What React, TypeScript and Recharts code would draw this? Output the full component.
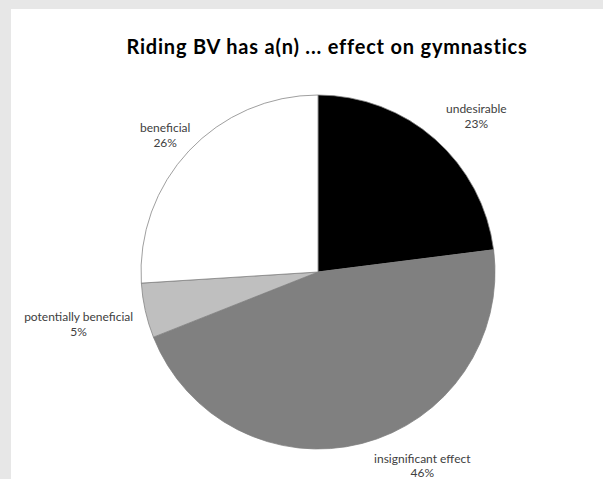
import React from "react";
import { PieChart, Pie, Cell } from "recharts";

const categories = ["undesirable", "insignificant effect", "potentially beneficial", "beneficial"];
const values = [23, 46, 5, 26];
const percentLabels = ["23%", "46%", "5%", "26%"];
const titleText = "Riding BV has a(n) ... effect on gymnastics";

const sliceColors = ["#000000", "#808080", "#bfbfbf", "#ffffff"];
// label placement: radius from centre and angular nudge (degrees) relative to slice mid angle
const labelLayout = [
  { r: 222, da: -4.1 },
  { r: 220, da: 13.9 },
  { r: 245, da: -0.3 },
  { r: 205, da: 1.4 },
];

const data = categories.map((name, i) => ({ name, value: values[i], pct: percentLabels[i] }));

const RAD = Math.PI / 180;

const renderLabel = (props: any) => {
  const { cx, cy, midAngle, index } = props;
  const lay = labelLayout[index];
  const a = (midAngle + lay.da) * RAD;
  const x = cx + lay.r * Math.cos(-a);
  const y = cy + lay.r * Math.sin(-a);
  return (
    <text
      x={x}
      y={y}
      textAnchor="middle"
      fill="#404040"
      fontFamily="Lato, 'Open Sans', sans-serif"
      fontSize={12}
    >
      <tspan x={x} dy={-3}>{data[index].name}</tspan>
      <tspan x={x} dy={14.5}>{data[index].pct}</tspan>
    </text>
  );
};

export default function App() {
  return (
    <div style={{ position: "absolute", left: 0, top: 0, width: 603, height: 479, background: "#e7e7e7", overflow: "hidden" }}>
      <div style={{ position: "absolute", left: 11, top: 9, width: 592, height: 470, background: "#ffffff" }}>
        <PieChart width={592} height={470}>
          <Pie
            data={data}
            dataKey="value"
            nameKey="name"
            cx={302}
            cy={258}
            outerRadius={177}
            startAngle={90}
            endAngle={-270}
            stroke="#7f7f7f"
            strokeWidth={0.75}
            label={renderLabel}
            labelLine={false}
            isAnimationActive={false}
          >
            {data.map((d, i) => (
              <Cell key={d.name} fill={sliceColors[i]} />
            ))}
          </Pie>
        </PieChart>
      </div>
      <div
        style={{
          position: "absolute",
          left: 27,
          top: 35,
          width: 600,
          textAlign: "center",
          fontFamily: "Lato, 'Open Sans', sans-serif",
          fontWeight: 700,
          fontSize: 20,
          letterSpacing: 0.8,
          lineHeight: "22px",
          color: "#000",
          whiteSpace: "nowrap",
        }}
      >
        {titleText}
      </div>
    </div>
  );
}
